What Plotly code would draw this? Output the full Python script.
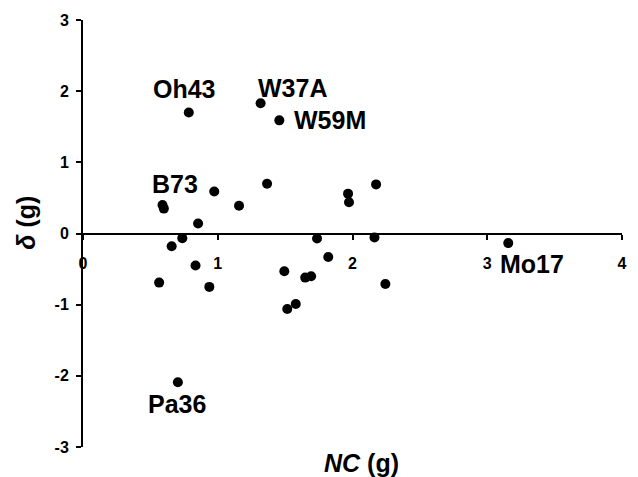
import plotly.graph_objects as go

# NC (g) and delta (g) values
nc = [0.785, 1.318, 1.457, 0.59, 0.60, 0.974, 1.158, 1.366, 0.854, 1.967, 1.974, 2.175,
      0.737, 0.658, 0.565, 0.835, 0.9375, 0.704, 1.737, 1.82, 1.494, 1.649, 1.693,
      1.516, 1.579, 2.163, 2.244, 3.156]
delta = [1.70, 1.83, 1.59, 0.40, 0.35, 0.59, 0.39, 0.70, 0.14, 0.56, 0.44, 0.69,
         -0.065, -0.18, -0.69, -0.45, -0.75, -2.09, -0.07, -0.33, -0.53, -0.62, -0.60,
         -1.06, -0.99, -0.055, -0.71, -0.135]

# line labels and their text anchor positions (data units)
label_names = ["Oh43", "W37A", "W59M", "B73", "Pa36", "Mo17"]
label_x = [0.754, 1.555, 1.83, 0.68, 0.70, 3.335]
label_y = [2.03, 2.05, 1.60, 0.70, -2.39, -0.43]

x_ticks = [0, 1, 2, 3, 4]
y_ticks = [-3, -2, -1, 0, 1, 2, 3]

FONT = "Arial, Liberation Sans, sans-serif"

fig = go.Figure()
fig.add_trace(go.Scatter(
    x=nc, y=delta, mode="markers",
    marker=dict(color="black", size=10, line=dict(width=0)),
    showlegend=False, cliponaxis=False,
))

for name, lx, ly in zip(label_names, label_x, label_y):
    fig.add_annotation(x=lx, y=ly, xref="x", yref="y", text=f"<b>{name}</b>",
                       showarrow=False, xanchor="center", yanchor="middle",
                       font=dict(family=FONT, size=25, color="black"))

fig.add_annotation(x=0.516, y=-0.037, xref="paper", yref="paper",
                   text="<b><i>NC</i> (g)</b>", showarrow=False,
                   xanchor="center", yanchor="middle",
                   font=dict(family=FONT, size=25, color="black"))
fig.add_annotation(x=-0.106, y=0.525, xref="paper", yref="paper",
                   text="<b><i>δ</i> (g)</b>", showarrow=False, textangle=-90,
                   xanchor="center", yanchor="middle",
                   font=dict(family=FONT, size=25, color="black"))

fig.update_layout(
    width=638, height=477,
    margin=dict(l=82.5, r=11.3, t=15, b=30),
    paper_bgcolor="white", plot_bgcolor="white",
    font=dict(family=FONT, size=15, color="black"),
    xaxis=dict(range=[0, 4], tickvals=x_ticks, ticktext=[f"<b>{v}</b>" for v in x_ticks],
               showgrid=False, zeroline=False, showline=True, linecolor="black",
               linewidth=2, ticks="outside", ticklen=5, tickwidth=2, tickcolor="black",
               anchor="free", position=0.5, ticklabelstandoff=10,
               tickfont=dict(family=FONT, size=16, color="black")),
    yaxis=dict(range=[-3, 3], tickvals=y_ticks, ticktext=[f"<b>{v}</b>" for v in y_ticks],
               showgrid=False, zeroline=False, showline=True, linecolor="black",
               linewidth=2, ticks="outside", ticklen=5, tickwidth=2, tickcolor="black",
               ticklabelstandoff=4,
               tickfont=dict(family=FONT, size=16, color="black")),
)

fig.write_html("out.html", config={"displayModeBar": False},
               post_script="document.body.style.margin='0';document.body.style.overflow='hidden';")
